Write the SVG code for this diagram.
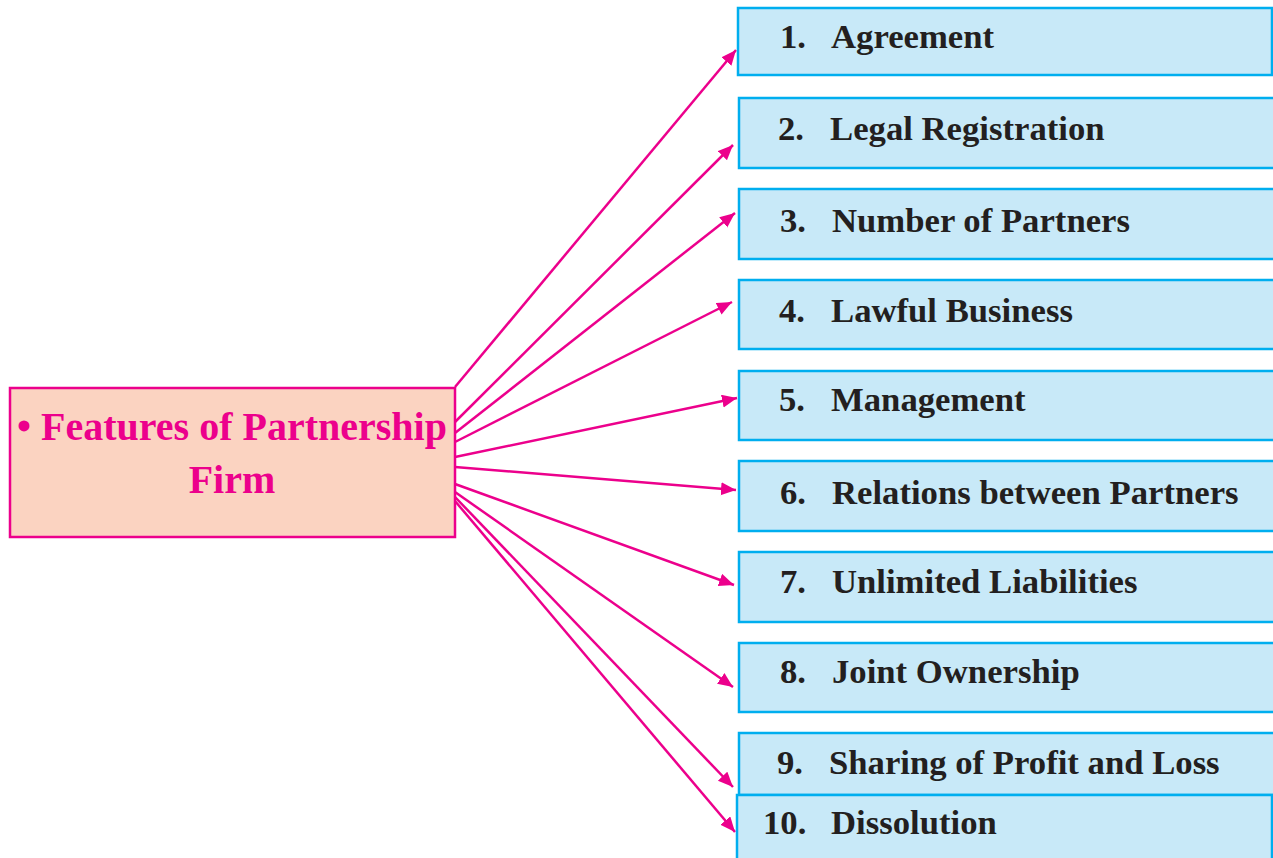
<svg xmlns="http://www.w3.org/2000/svg" width="1273" height="858" viewBox="0 0 1273 858">
<style>
.item rect{fill:#C8E9F8;stroke:#00AEEF;stroke-width:2.5}
.item text{font-family:"Liberation Serif","Times New Roman",serif;font-weight:bold;font-size:34.7px;fill:#231F20}
#root rect{fill:#FBD3C1;stroke:#EC008C;stroke-width:2.5}
#root text{font-family:"Liberation Serif","Times New Roman",serif;font-weight:bold;font-size:40px;fill:#EC008C;text-anchor:middle}
#connectors line{stroke:#EC008C;stroke-width:2.5;marker-end:url(#ah)}
</style>
<defs>
<marker id="ah" markerUnits="userSpaceOnUse" markerWidth="16" markerHeight="14" refX="15" refY="6.5" orient="auto">
<path d="M0,0 L15,6.5 L0,13 Z" fill="#EC008C"/>
</marker>
</defs>
<rect width="1273" height="858" fill="#fff"/>
<g id="root">
<rect x="10" y="388" width="445" height="149"/>
<text x="232" y="440">• Features of Partnership</text>
<text x="232" y="493">Firm</text>
</g>
<g id="connectors">
<line x1="455" y1="387" x2="736" y2="50"/>
<line x1="455" y1="422" x2="733" y2="145"/>
<line x1="455" y1="433" x2="735" y2="213"/>
<line x1="455" y1="442" x2="732" y2="302"/>
<line x1="455" y1="457" x2="737" y2="398"/>
<line x1="455" y1="467" x2="736" y2="490"/>
<line x1="455" y1="484" x2="734" y2="585"/>
<line x1="455" y1="492" x2="733" y2="687"/>
<line x1="455" y1="497" x2="733" y2="787"/>
<line x1="455" y1="501" x2="735" y2="832"/>
</g>
<g id="n1" class="item"><rect x="738" y="8" width="534" height="67"/><text x="780" y="48">1.</text><text x="831" y="48">Agreement</text></g>
<g id="n2" class="item"><rect x="739" y="98" width="540" height="70"/><text x="778" y="140">2.</text><text x="830" y="140">Legal Registration</text></g>
<g id="n3" class="item"><rect x="739" y="189" width="540" height="70"/><text x="780" y="232">3.</text><text x="832" y="232">Number of Partners</text></g>
<g id="n4" class="item"><rect x="739" y="280" width="540" height="69"/><text x="779" y="322">4.</text><text x="831" y="322">Lawful Business</text></g>
<g id="n5" class="item"><rect x="739" y="371" width="540" height="69"/><text x="779" y="411">5.</text><text x="831" y="411">Management</text></g>
<g id="n6" class="item"><rect x="739" y="461" width="540" height="70"/><text x="780" y="504">6.</text><text x="832" y="504">Relations between Partners</text></g>
<g id="n7" class="item"><rect x="739" y="552" width="540" height="70"/><text x="780" y="593">7.</text><text x="832" y="593">Unlimited Liabilities</text></g>
<g id="n8" class="item"><rect x="739" y="643" width="540" height="69"/><text x="780" y="683">8.</text><text x="832" y="683">Joint Ownership</text></g>
<g id="n9" class="item"><rect x="739" y="733" width="540" height="62"/><text x="777" y="774">9.</text><text x="829" y="774">Sharing of Profit and Loss</text></g>
<g id="n10" class="item"><rect x="737" y="795" width="535" height="70"/><text x="763" y="834">10.</text><text x="831" y="834">Dissolution</text></g>
</svg>
